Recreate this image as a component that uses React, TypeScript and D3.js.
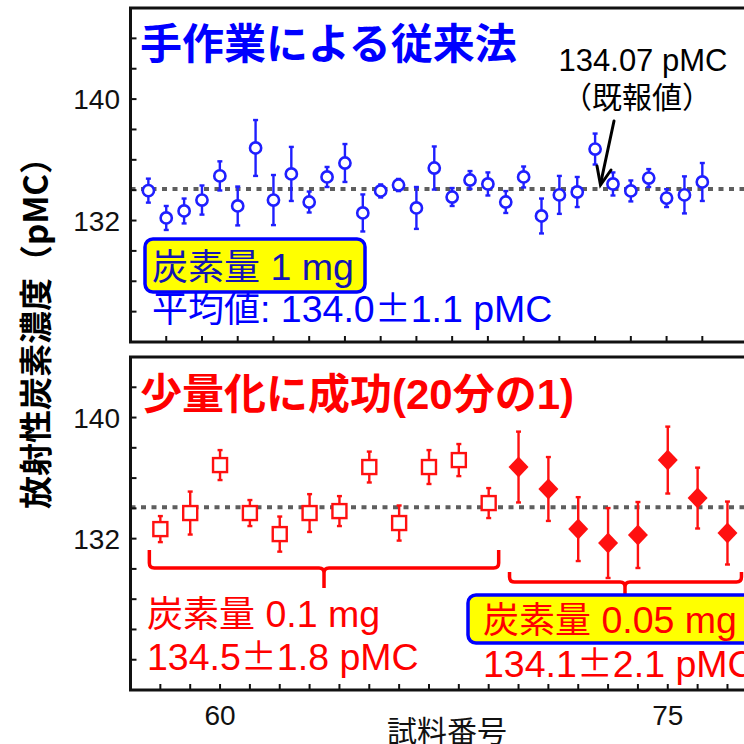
import * as d3 from "d3";

const LATIN = "'Liberation Sans', Arial, 'Noto Sans CJK JP', sans-serif";
const CJK = "'Noto Sans CJK JP', 'Liberation Sans', sans-serif";

// reference value (既報値)
const REF_VALUE = 134.07;

// top panel: manual method, 1 mg carbon
const topSamples = [1, 2, 3, 4, 5, 6, 7, 8, 9, 10, 11, 12, 13, 14, 15, 16, 17, 18, 19, 20, 21, 22, 23, 24, 25, 26, 27, 28, 29, 30, 31, 32];
const topValues = [133.97, 132.17, 132.63, 133.35, 134.94, 132.96, 136.78, 133.35, 135.07, 133.22, 134.87, 135.79, 132.5, 133.95, 134.34, 132.83, 135.46, 133.55, 134.67, 134.41, 133.22, 134.87, 132.3, 133.69, 133.88, 136.71, 134.41, 133.95, 134.8, 133.48, 133.69, 134.54];
const topErrors = [0.79, 0.79, 0.82, 0.96, 0.96, 1.28, 1.84, 1.65, 1.78, 0.69, 0.66, 1.25, 1.22, 0.43, 0.4, 1.38, 1.42, 0.59, 0.59, 0.76, 0.72, 0.69, 1.15, 1.25, 0.99, 1.02, 0.76, 0.69, 0.59, 0.59, 1.22, 1.25];

// bottom panel: 0.1 mg carbon
const smallSamples = [58, 59, 60, 61, 62, 63, 64, 65, 66, 67, 68, 69];
const smallValues = [132.63, 133.69, 136.86, 133.69, 132.3, 133.69, 133.82, 136.73, 133.03, 136.73, 137.19, 134.35];
const smallErrors = [0.86, 1.42, 0.99, 0.86, 1.16, 1.25, 0.99, 1.02, 1.16, 1.12, 1.06, 0.99];

// bottom panel: 0.05 mg carbon
const tinySamples = [70, 71, 72, 73, 74, 75, 76, 77];
const tinyValues = [136.73, 135.28, 132.63, 131.71, 132.24, 137.19, 134.68, 132.37];
const tinyErrors = [2.34, 2.11, 2.11, 2.31, 2.18, 2.21, 2.01, 2.08];

const yTickLabels = [140, 132];
const xTickLabels = [60, 75];

const W = 744;
const H = 744;
const LEFT = 130.5;
const RIGHT = 760;
const BLUE = "#1f1fff";
const RED = "#ff1010";
const NOTE = 37.5; // latin size of the annotations
const NOTE_JA = 36;

function ErrorBar({ x, y0, y1, color }: { x: number; y0: number; y1: number; color: string }) {
  return (
    <g stroke={color} strokeWidth={2.4}>
      <line x1={x} x2={x} y1={y0} y2={y1} />
      <line x1={x - 2.5} x2={x + 2.5} y1={y0} y2={y0} />
      <line x1={x - 2.5} x2={x + 2.5} y1={y1} y2={y1} />
    </g>
  );
}

function Ja({ children }: { children: any }) {
  return (
    <tspan fontFamily={CJK} fontSize={NOTE_JA}>
      {children}
    </tspan>
  );
}

export default function App() {
  const xTop = d3.scaleLinear().domain([0, 35.2]).range([LEFT, RIGHT - 0.5]);
  const yTop = d3.scaleLinear().domain([124, 146]).range([342, 8]);
  const xBot = d3.scaleLinear().domain([57, 78.09]).range([LEFT, RIGHT]);
  const yBot = d3.scaleLinear().domain([122, 144]).range([690, 357]);

  const yTicksTop = d3.range(124, 147, 2);
  const yTicksBot = d3.range(122, 145, 2);
  const xTicksTop = topSamples.filter((s) => s % 2 === 0);
  const xTicksBot = d3.range(58, 79, 1);

  const smallData = smallSamples.map((s, i) => ({ s, v: smallValues[i], e: smallErrors[i] }));
  const tinyData = tinySamples.map((s, i) => ({ s, v: tinyValues[i], e: tinyErrors[i] }));

  // braces under the two groups
  const b1 = { l: xBot(58) - 11, r: xBot(69) + 10, top: 550, mid: 568, tip: 588, c: 0 };
  b1.c = (b1.l + b1.r) / 2;
  const b2 = { l: xBot(70) - 9, r: xBot(77) + 14, top: 572, mid: 582, tip: 597, c: 625 };
  const brace = (b: typeof b1) => {
    const c = b.c;
    return `M${b.l},${b.top} L${b.l},${b.mid - 5} Q${b.l},${b.mid} ${b.l + 5},${b.mid} L${c - 5},${b.mid} Q${c},${b.mid} ${c},${b.mid + 5} L${c},${b.tip} M${c},${b.mid + 5} Q${c},${b.mid} ${c + 5},${b.mid} L${b.r - 5},${b.mid} Q${b.r},${b.mid} ${b.r},${b.mid - 5} L${b.r},${b.top}`;
  };

  const refTop = yTop(REF_VALUE);
  const refBot = yBot(REF_VALUE);

  return (
    <svg width={W} height={H} style={{ position: "absolute", left: 0, top: 0, background: "#fff" }} fontFamily={LATIN}>
      {/* y axis title */}
      <text
        transform="translate(34,325) rotate(-90)"
        textAnchor="middle"
        dominantBaseline="central"
        fontFamily={CJK}
        fontWeight="bold"
        fontSize={33}
        fill="#000"
      >
        放射性炭素濃度（pMC）
      </text>

      {/* ---------- top panel ---------- */}
      <line x1={LEFT} x2={RIGHT} y1={refTop} y2={refTop} stroke="#5e5e5e" strokeWidth={4} strokeDasharray="5,5.5" />
      {yTicksTop.map((t) => (
        <line key={t} x1={LEFT} x2={LEFT + 6} y1={yTop(t)} y2={yTop(t)} stroke="#111" strokeWidth={2} />
      ))}
      {xTicksTop.map((t) => (
        <line key={t} x1={xTop(t)} x2={xTop(t)} y1={342} y2={336} stroke="#111" strokeWidth={2} />
      ))}
      {yTickLabels.map((t) => (
        <text key={t} x={120} y={yTop(t)} dy="0.36em" textAnchor="end" fontSize={28} fill="#111">
          {t}
        </text>
      ))}
      {topSamples.map((s, i) => (
        <g key={s}>
          <ErrorBar x={xTop(s)} y0={yTop(topValues[i] + topErrors[i])} y1={yTop(topValues[i] - topErrors[i])} color={BLUE} />
          <circle cx={xTop(s)} cy={yTop(topValues[i])} r={5.6} fill="#fff" stroke={BLUE} strokeWidth={2.6} />
        </g>
      ))}
      <rect x={LEFT} y={8} width={RIGHT - LEFT} height={334} fill="none" stroke="#111" strokeWidth={3} />

      <text x={140} y={59} fontFamily={CJK} fontWeight="bold" fontSize={42} fill="#0000ff">
        手作業による従来法
      </text>
      <text x={643} y={71} textAnchor="middle" fontSize={31} fill="#000">
        134.07 pMC
      </text>
      <text x={637} y={108} textAnchor="middle" fontFamily={CJK} fontSize={30} fill="#000">
        （既報値）
      </text>
      <g stroke="#000" strokeWidth={3} fill="none" strokeLinecap="round">
        <line x1={614} y1={121} x2={600.5} y2={184} />
        <polyline points={`${597},${166} ${600.5},${185} ${611},${170}`} />
      </g>

      <rect x={145} y={239} width={220} height={53} rx={8} fill="#ffff00" stroke="#0000ff" strokeWidth={3.5} />
      <text x={152} y={280} fontSize={NOTE} fill="#1414b4">
        <Ja>炭素量</Ja> 1 mg
      </text>
      <text x={152} y={322} fontSize={NOTE} fill="#0000ff">
        <Ja>平均値</Ja>: 134.0<Ja>±</Ja>1.1 pMC
      </text>

      {/* ---------- bottom panel ---------- */}
      <line x1={LEFT} x2={RIGHT} y1={refBot} y2={refBot} stroke="#5e5e5e" strokeWidth={4} strokeDasharray="5,5.5" />
      {yTicksBot.map((t) => (
        <line key={t} x1={LEFT} x2={LEFT + 6} y1={yBot(t)} y2={yBot(t)} stroke="#111" strokeWidth={2} />
      ))}
      {xTicksBot.map((t) => (
        <line key={t} x1={xBot(t)} x2={xBot(t)} y1={690} y2={684} stroke="#111" strokeWidth={2} />
      ))}
      {yTickLabels.map((t) => (
        <text key={t} x={120} y={yBot(t)} dy="0.36em" textAnchor="end" fontSize={28} fill="#111">
          {t}
        </text>
      ))}
      {smallData.map((d) => (
        <g key={d.s}>
          <ErrorBar x={xBot(d.s)} y0={yBot(d.v + d.e)} y1={yBot(d.v - d.e)} color={RED} />
          <rect x={xBot(d.s) - 7} y={yBot(d.v) - 7} width={14} height={14} fill="#fff" stroke={RED} strokeWidth={2.4} />
        </g>
      ))}
      {tinyData.map((d) => {
        const cx = xBot(d.s);
        const cy = yBot(d.v);
        return (
          <g key={d.s}>
            <ErrorBar x={cx} y0={yBot(d.v + d.e)} y1={yBot(d.v - d.e)} color={RED} />
            <path d={`M${cx},${cy - 10.5} L${cx + 10},${cy} L${cx},${cy + 10.5} L${cx - 10},${cy} Z`} fill={RED} />
          </g>
        );
      })}
      <rect x={LEFT} y={357} width={RIGHT - LEFT} height={333} fill="none" stroke="#111" strokeWidth={3} />

      <text x={140} y={409} fontFamily={CJK} fontWeight="bold" fontSize={42} fill="#ff0000">
        少量化に成功<tspan fontFamily={LATIN}>(20</tspan>分の<tspan fontFamily={LATIN}>1)</tspan>
      </text>

      <g stroke="#ff0000" strokeWidth={3.5} fill="none" strokeLinejoin="round">
        <path d={brace(b1)} />
        <path d={brace(b2)} />
      </g>

      <text x={147} y={627} fontSize={NOTE} fill="#ff0000">
        <Ja>炭素量</Ja> 0.1 mg
      </text>
      <text x={147} y={670} fontSize={NOTE} fill="#ff0000">
        134.5<Ja>±</Ja>1.8 pMC
      </text>

      <rect x={468} y={595} width={290} height={48} rx={8} fill="#ffff00" stroke="#0000ff" strokeWidth={3.5} />
      <text x={483} y={633} fontSize={NOTE} fill="#ff0000">
        <Ja>炭素量</Ja> 0.05 mg
      </text>
      <text x={483} y={677} fontSize={NOTE} fill="#ff0000">
        134.1<Ja>±</Ja>2.1 pMC
      </text>

      {xTickLabels.map((t) => (
        <text key={t} x={xBot(t)} y={725} textAnchor="middle" fontSize={28} fill="#111">
          {t}
        </text>
      ))}
      <text x={447} y={742} textAnchor="middle" fontFamily={CJK} fontSize={30} fill="#111">
        試料番号
      </text>
    </svg>
  );
}
